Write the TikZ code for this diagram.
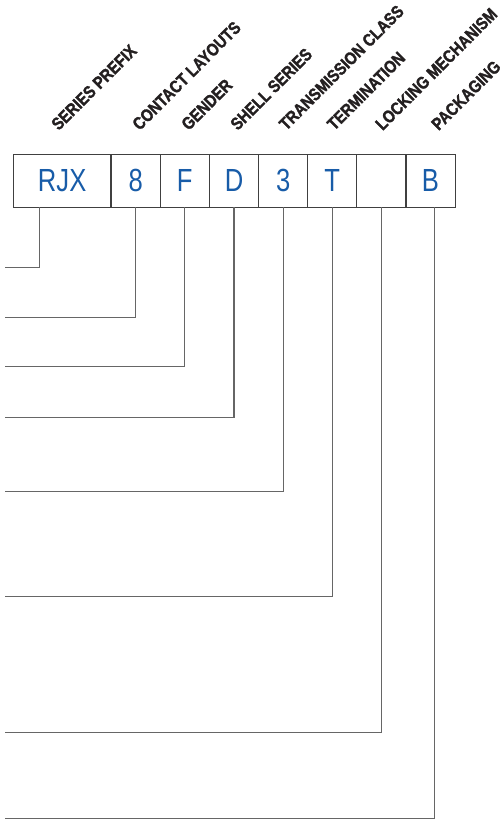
\documentclass[tikz,border=0pt]{standalone}
\usepackage{fontspec}
\newfontfamily\condfont[FakeStretch=0.8]{Liberation Sans}
\newfontfamily\condboldfont[FakeStretch=0.85, FakeBold=1.6]{Liberation Sans Bold}
\usetikzlibrary{calc}
\definecolor{codeblue}{RGB}{24,92,168}
\definecolor{inkgray}{RGB}{35,31,32}

\begin{document}
\begin{tikzpicture}[x=1pt, y=-1pt,
    field/.style={draw=black!75, line width=1.1pt, minimum width=49.2pt, minimum height=53pt,
        inner sep=0pt, outer sep=0pt, text=codeblue, font=\condfont\fontsize{32}{32}\selectfont},
    tag/.style={rotate=45, anchor=south west, inner sep=0pt, text=inkgray,
        font=\condboldfont\fontsize{17.4}{17.4}\selectfont},
    lead/.style={draw=black!60, line width=1.1pt}]

    % --- Page frame ---
    \useasboundingbox (0,0) rectangle (503,820);

    % --- Code fields ---
    \node[field, minimum width=97.7pt] (rjx) at (62.15,180.8) {RJX};
    \node[field] (layout) at (135.65,180.8) {8};
    \node[field] (gender) at (184.8,180.8) {F};
    \node[field] (shell)  at (234,180.8)   {D};
    \node[field] (trans)  at (283.2,180.8) {3};
    \node[field] (term)   at (332.2,180.8) {T};
    \node[field] (lock)   at (381.35,180.8) {};
    \node[field] (pack)   at (430.5,180.8) {B};

    % --- Slanted headings ---
    \node[tag] (lblrjx)    at (58.8,131.5)  {SERIES PREFIX};
    \node[tag] (lbllayout) at (139.8,131.5) {CONTACT LAYOUTS};
    \node[tag] (lblgender) at (188.8,131.5) {GENDER};
    \node[tag] (lblshell)  at (237.8,131.5) {SHELL SERIES};
    \node[tag] (lbltrans)  at (286.5,131.5) {TRANSMISSION CLASS};
    \node[tag] (lblterm)   at (334.5,131.5) {TERMINATION};
    \node[tag] (lbllock)   at (382.8,131.5) {LOCKING MECHANISM};
    \node[tag] (lblpack)   at (438.8,131.5) {PACKAGING};

    % --- Tap points and free ends ---
    \coordinate (rjxtap)  at ($(rjx.south)+(-23,0)$);  % off-centre drop
    \coordinate (packtap) at ($(pack.south)+(4,0)$);
    \coordinate (e1) at (4.7,267.3);
    \coordinate (e2) at (4.7,317.3);
    \coordinate (e3) at (4.7,366.3);
    \coordinate (e4) at (4.7,417.3);
    \coordinate (e5) at (4.7,491.7);
    \coordinate (e6) at (4.7,596.7);
    \coordinate (e7) at (4.7,732.7);
    \coordinate (e8) at (4.7,818.3);

    % --- Leaders ---
    \draw[lead] (rjxtap) |- (e1);
    \draw[lead] (layout.south) |- (e2);
    \draw[lead] (gender.south) |- (e3);
    \draw[lead] (shell.south) |- (e4);
    \draw[lead] (trans.south) |- (e5);
    \draw[lead] (term.south) |- (e6);
    \draw[lead] (lock.south) |- (e7);
    \draw[lead] (packtap) |- (e8);

\end{tikzpicture}
\end{document}
